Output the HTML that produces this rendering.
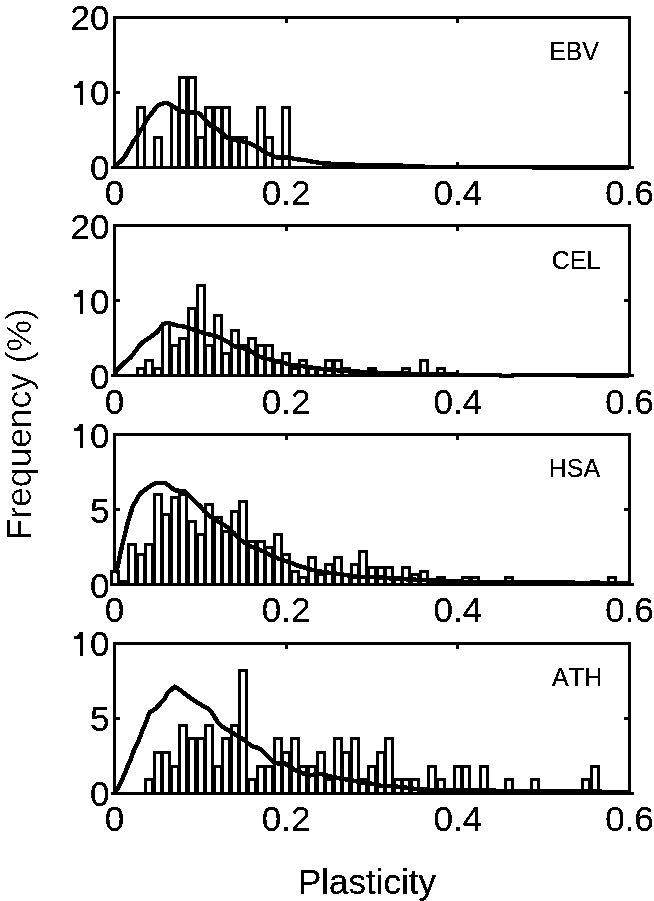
<!DOCTYPE html>
<html><head><meta charset="utf-8"><style>
html,body{margin:0;padding:0;background:#fff;}
svg{display:block;font-family:"Liberation Sans", sans-serif;font-kerning:none;will-change:transform;}
text{fill:#000;}
</style></head><body>
<svg width="654" height="901" viewBox="0 0 654 901">
<rect width="654" height="901" fill="#fff"/>
<defs><filter id="crisp" x="0" y="0" width="100%" height="100%" filterUnits="userSpaceOnUse"><feComponentTransfer><feFuncA type="discrete" tableValues="0 1 1"/></feComponentTransfer></filter><filter id="crisp2" x="0" y="0" width="100%" height="100%" filterUnits="userSpaceOnUse"><feComponentTransfer><feFuncA type="discrete" tableValues="0 0 1"/></feComponentTransfer></filter></defs>
<g shape-rendering="crispEdges"><rect x="113" y="16" width="518" height="3" fill="#000"/><rect x="113" y="166" width="518" height="3" fill="#000"/><rect x="113" y="16" width="3" height="153" fill="#000"/><rect x="628" y="16" width="3" height="153" fill="#000"/><rect x="285" y="19" width="3" height="4" fill="#000"/><rect x="285" y="162" width="3" height="4" fill="#000"/><rect x="456" y="19" width="3" height="4" fill="#000"/><rect x="456" y="162" width="3" height="4" fill="#000"/><rect x="116" y="91" width="4" height="3" fill="#000"/><rect x="624" y="91" width="4" height="3" fill="#000"/><rect x="111" y="166" width="3" height="3" fill="#000"/><rect x="631" y="166" width="3" height="3" fill="#000"/><rect x="139" y="109" width="4" height="57" fill="#fff"/><rect x="156" y="139" width="4" height="27" fill="#fff"/><rect x="173" y="109" width="4" height="57" fill="#fff"/><rect x="181" y="79" width="4" height="87" fill="#fff"/><rect x="190" y="79" width="4" height="87" fill="#fff"/><rect x="199" y="139" width="4" height="27" fill="#fff"/><rect x="207" y="109" width="4" height="57" fill="#fff"/><rect x="216" y="109" width="4" height="57" fill="#fff"/><rect x="224" y="109" width="4" height="57" fill="#fff"/><rect x="233" y="139" width="4" height="27" fill="#fff"/><rect x="241" y="139" width="4" height="27" fill="#fff"/><rect x="259" y="109" width="4" height="57" fill="#fff"/><rect x="267" y="139" width="4" height="27" fill="#fff"/><rect x="284" y="109" width="4" height="57" fill="#fff"/><rect x="136" y="106" width="3" height="63" fill="#000"/><rect x="143" y="106" width="3" height="63" fill="#000"/><rect x="136" y="106" width="10" height="3" fill="#000"/><rect x="153" y="136" width="3" height="33" fill="#000"/><rect x="160" y="136" width="3" height="33" fill="#000"/><rect x="153" y="136" width="10" height="3" fill="#000"/><rect x="170" y="106" width="3" height="63" fill="#000"/><rect x="177" y="106" width="3" height="63" fill="#000"/><rect x="170" y="106" width="10" height="3" fill="#000"/><rect x="178" y="76" width="3" height="93" fill="#000"/><rect x="185" y="76" width="3" height="93" fill="#000"/><rect x="178" y="76" width="10" height="3" fill="#000"/><rect x="187" y="76" width="3" height="93" fill="#000"/><rect x="194" y="76" width="3" height="93" fill="#000"/><rect x="187" y="76" width="10" height="3" fill="#000"/><rect x="196" y="136" width="3" height="33" fill="#000"/><rect x="203" y="136" width="3" height="33" fill="#000"/><rect x="196" y="136" width="10" height="3" fill="#000"/><rect x="204" y="106" width="3" height="63" fill="#000"/><rect x="211" y="106" width="3" height="63" fill="#000"/><rect x="204" y="106" width="10" height="3" fill="#000"/><rect x="213" y="106" width="3" height="63" fill="#000"/><rect x="220" y="106" width="3" height="63" fill="#000"/><rect x="213" y="106" width="10" height="3" fill="#000"/><rect x="221" y="106" width="3" height="63" fill="#000"/><rect x="228" y="106" width="3" height="63" fill="#000"/><rect x="221" y="106" width="10" height="3" fill="#000"/><rect x="230" y="136" width="3" height="33" fill="#000"/><rect x="237" y="136" width="3" height="33" fill="#000"/><rect x="230" y="136" width="10" height="3" fill="#000"/><rect x="238" y="136" width="3" height="33" fill="#000"/><rect x="245" y="136" width="3" height="33" fill="#000"/><rect x="238" y="136" width="10" height="3" fill="#000"/><rect x="256" y="106" width="3" height="63" fill="#000"/><rect x="263" y="106" width="3" height="63" fill="#000"/><rect x="256" y="106" width="10" height="3" fill="#000"/><rect x="264" y="136" width="3" height="33" fill="#000"/><rect x="271" y="136" width="3" height="33" fill="#000"/><rect x="264" y="136" width="10" height="3" fill="#000"/><rect x="281" y="106" width="3" height="63" fill="#000"/><rect x="288" y="106" width="3" height="63" fill="#000"/><rect x="281" y="106" width="10" height="3" fill="#000"/></g>
<polyline points="114.5,167.5 116.2,164.5 120.5,161.5 124.7,157.1 127.8,151.0 130.8,146.1 133.9,140.8 137.0,136.6 140.0,131.1 143.1,126.8 145.8,121.5 148.6,117.0 151.6,113.5 154.7,109.3 157.7,105.6 160.8,104.1 163.8,103.2 166.9,103.0 170.0,104.6 173.0,106.3 176.1,108.4 179.1,110.0 182.2,111.5 185.5,112.0 189.6,112.5 195.7,112.7 199.4,113.5 201.8,116.0 204.9,119.5 208.0,122.8 211.0,125.9 214.1,127.5 217.1,129.0 220.2,131.4 223.5,134.0 226.6,137.5 232.7,140.0 238.8,140.5 245.0,142.0 248.0,143.0 251.1,143.9 254.1,145.5 257.2,147.2 260.5,148.8 264.6,152.2 270.7,155.0 276.8,157.5 283.0,157.5 289.1,157.5 295.2,159.0 298.5,159.5 306.2,160.3 311.5,161.5 324.4,163.6 346.9,164.1 359.7,165.2 380.5,165.2 385.5,164.8 390.5,165.2 408.5,166.0 430.5,167.0 629.5,167.5" fill="none" stroke="#000" stroke-width="4.5" stroke-linejoin="round" shape-rendering="crispEdges"/>
<g shape-rendering="crispEdges"><rect x="113" y="224" width="518" height="3" fill="#000"/><rect x="113" y="374" width="518" height="3" fill="#000"/><rect x="113" y="224" width="3" height="153" fill="#000"/><rect x="628" y="224" width="3" height="153" fill="#000"/><rect x="285" y="227" width="3" height="4" fill="#000"/><rect x="285" y="370" width="3" height="4" fill="#000"/><rect x="456" y="227" width="3" height="4" fill="#000"/><rect x="456" y="370" width="3" height="4" fill="#000"/><rect x="116" y="299" width="4" height="3" fill="#000"/><rect x="624" y="299" width="4" height="3" fill="#000"/><rect x="111" y="374" width="3" height="3" fill="#000"/><rect x="631" y="374" width="3" height="3" fill="#000"/><rect x="139" y="370" width="4" height="4" fill="#fff"/><rect x="147" y="362" width="4" height="12" fill="#fff"/><rect x="156" y="370" width="4" height="4" fill="#fff"/><rect x="164" y="325" width="4" height="49" fill="#fff"/><rect x="173" y="347" width="4" height="27" fill="#fff"/><rect x="181" y="340" width="4" height="34" fill="#fff"/><rect x="190" y="310" width="4" height="64" fill="#fff"/><rect x="199" y="287" width="4" height="87" fill="#fff"/><rect x="207" y="347" width="4" height="27" fill="#fff"/><rect x="216" y="317" width="4" height="57" fill="#fff"/><rect x="224" y="355" width="4" height="19" fill="#fff"/><rect x="233" y="332" width="4" height="42" fill="#fff"/><rect x="241" y="347" width="4" height="27" fill="#fff"/><rect x="250" y="340" width="4" height="34" fill="#fff"/><rect x="259" y="347" width="4" height="27" fill="#fff"/><rect x="267" y="347" width="4" height="27" fill="#fff"/><rect x="276" y="362" width="4" height="12" fill="#fff"/><rect x="284" y="355" width="4" height="19" fill="#fff"/><rect x="293" y="370" width="4" height="4" fill="#fff"/><rect x="301" y="362" width="4" height="12" fill="#fff"/><rect x="310" y="370" width="4" height="4" fill="#fff"/><rect x="319" y="370" width="4" height="4" fill="#fff"/><rect x="327" y="362" width="4" height="12" fill="#fff"/><rect x="336" y="362" width="4" height="12" fill="#fff"/><rect x="344" y="370" width="4" height="4" fill="#fff"/><rect x="370" y="370" width="4" height="4" fill="#fff"/><rect x="404" y="370" width="4" height="4" fill="#fff"/><rect x="422" y="362" width="4" height="12" fill="#fff"/><rect x="439" y="370" width="4" height="4" fill="#fff"/><rect x="136" y="367" width="3" height="10" fill="#000"/><rect x="143" y="367" width="3" height="10" fill="#000"/><rect x="136" y="367" width="10" height="3" fill="#000"/><rect x="144" y="359" width="3" height="18" fill="#000"/><rect x="151" y="359" width="3" height="18" fill="#000"/><rect x="144" y="359" width="10" height="3" fill="#000"/><rect x="153" y="367" width="3" height="10" fill="#000"/><rect x="160" y="367" width="3" height="10" fill="#000"/><rect x="153" y="367" width="10" height="3" fill="#000"/><rect x="161" y="322" width="3" height="55" fill="#000"/><rect x="168" y="322" width="3" height="55" fill="#000"/><rect x="161" y="322" width="10" height="3" fill="#000"/><rect x="170" y="344" width="3" height="33" fill="#000"/><rect x="177" y="344" width="3" height="33" fill="#000"/><rect x="170" y="344" width="10" height="3" fill="#000"/><rect x="178" y="337" width="3" height="40" fill="#000"/><rect x="185" y="337" width="3" height="40" fill="#000"/><rect x="178" y="337" width="10" height="3" fill="#000"/><rect x="187" y="307" width="3" height="70" fill="#000"/><rect x="194" y="307" width="3" height="70" fill="#000"/><rect x="187" y="307" width="10" height="3" fill="#000"/><rect x="196" y="284" width="3" height="93" fill="#000"/><rect x="203" y="284" width="3" height="93" fill="#000"/><rect x="196" y="284" width="10" height="3" fill="#000"/><rect x="204" y="344" width="3" height="33" fill="#000"/><rect x="211" y="344" width="3" height="33" fill="#000"/><rect x="204" y="344" width="10" height="3" fill="#000"/><rect x="213" y="314" width="3" height="63" fill="#000"/><rect x="220" y="314" width="3" height="63" fill="#000"/><rect x="213" y="314" width="10" height="3" fill="#000"/><rect x="221" y="352" width="3" height="25" fill="#000"/><rect x="228" y="352" width="3" height="25" fill="#000"/><rect x="221" y="352" width="10" height="3" fill="#000"/><rect x="230" y="329" width="3" height="48" fill="#000"/><rect x="237" y="329" width="3" height="48" fill="#000"/><rect x="230" y="329" width="10" height="3" fill="#000"/><rect x="238" y="344" width="3" height="33" fill="#000"/><rect x="245" y="344" width="3" height="33" fill="#000"/><rect x="238" y="344" width="10" height="3" fill="#000"/><rect x="247" y="337" width="3" height="40" fill="#000"/><rect x="254" y="337" width="3" height="40" fill="#000"/><rect x="247" y="337" width="10" height="3" fill="#000"/><rect x="256" y="344" width="3" height="33" fill="#000"/><rect x="263" y="344" width="3" height="33" fill="#000"/><rect x="256" y="344" width="10" height="3" fill="#000"/><rect x="264" y="344" width="3" height="33" fill="#000"/><rect x="271" y="344" width="3" height="33" fill="#000"/><rect x="264" y="344" width="10" height="3" fill="#000"/><rect x="273" y="359" width="3" height="18" fill="#000"/><rect x="280" y="359" width="3" height="18" fill="#000"/><rect x="273" y="359" width="10" height="3" fill="#000"/><rect x="281" y="352" width="3" height="25" fill="#000"/><rect x="288" y="352" width="3" height="25" fill="#000"/><rect x="281" y="352" width="10" height="3" fill="#000"/><rect x="290" y="367" width="3" height="10" fill="#000"/><rect x="297" y="367" width="3" height="10" fill="#000"/><rect x="290" y="367" width="10" height="3" fill="#000"/><rect x="298" y="359" width="3" height="18" fill="#000"/><rect x="305" y="359" width="3" height="18" fill="#000"/><rect x="298" y="359" width="10" height="3" fill="#000"/><rect x="307" y="367" width="3" height="10" fill="#000"/><rect x="314" y="367" width="3" height="10" fill="#000"/><rect x="307" y="367" width="10" height="3" fill="#000"/><rect x="316" y="367" width="3" height="10" fill="#000"/><rect x="323" y="367" width="3" height="10" fill="#000"/><rect x="316" y="367" width="10" height="3" fill="#000"/><rect x="324" y="359" width="3" height="18" fill="#000"/><rect x="331" y="359" width="3" height="18" fill="#000"/><rect x="324" y="359" width="10" height="3" fill="#000"/><rect x="333" y="359" width="3" height="18" fill="#000"/><rect x="340" y="359" width="3" height="18" fill="#000"/><rect x="333" y="359" width="10" height="3" fill="#000"/><rect x="341" y="367" width="3" height="10" fill="#000"/><rect x="348" y="367" width="3" height="10" fill="#000"/><rect x="341" y="367" width="10" height="3" fill="#000"/><rect x="367" y="367" width="3" height="10" fill="#000"/><rect x="374" y="367" width="3" height="10" fill="#000"/><rect x="367" y="367" width="10" height="3" fill="#000"/><rect x="401" y="367" width="3" height="10" fill="#000"/><rect x="408" y="367" width="3" height="10" fill="#000"/><rect x="401" y="367" width="10" height="3" fill="#000"/><rect x="419" y="359" width="3" height="18" fill="#000"/><rect x="426" y="359" width="3" height="18" fill="#000"/><rect x="419" y="359" width="10" height="3" fill="#000"/><rect x="436" y="367" width="3" height="10" fill="#000"/><rect x="443" y="367" width="3" height="10" fill="#000"/><rect x="436" y="367" width="10" height="3" fill="#000"/></g>
<polyline points="114.5,375.5 116.2,370.8 118.6,368.5 121.7,365.4 124.7,362.3 127.8,359.9 130.8,357.1 133.9,353.2 137.0,348.9 140.0,344.9 143.1,341.8 146.1,340.0 149.2,337.8 151.0,336.5 153.6,334.8 156.6,332.4 159.7,329.0 162.7,325.0 165.8,322.9 168.8,323.2 171.9,324.1 175.0,324.9 178.0,325.8 181.1,326.1 184.1,326.7 187.2,327.5 191.6,328.9 197.7,331.0 203.8,333.2 210.0,334.7 216.1,336.3 222.2,339.3 228.6,342.5 234.7,346.3 240.8,347.8 247.0,349.0 253.1,352.7 259.0,356.7 264.6,358.3 270.7,359.5 276.8,361.4 283.0,362.6 289.1,364.5 295.2,365.3 303.1,366.3 310.8,367.4 318.4,368.5 326.1,369.3 333.7,369.7 341.4,371.1 349.7,371.3 365.5,372.0 381.8,373.0 399.2,373.5 440.5,374.5 476.5,375.0 498.5,375.0 502.5,376.0 510.5,376.0 514.5,375.0 629.5,375.5" fill="none" stroke="#000" stroke-width="4.5" stroke-linejoin="round" shape-rendering="crispEdges"/>
<g shape-rendering="crispEdges"><rect x="113" y="433" width="518" height="3" fill="#000"/><rect x="113" y="583" width="518" height="3" fill="#000"/><rect x="113" y="433" width="3" height="153" fill="#000"/><rect x="628" y="433" width="3" height="153" fill="#000"/><rect x="285" y="436" width="3" height="4" fill="#000"/><rect x="285" y="579" width="3" height="4" fill="#000"/><rect x="456" y="436" width="3" height="4" fill="#000"/><rect x="456" y="579" width="3" height="4" fill="#000"/><rect x="116" y="508" width="4" height="3" fill="#000"/><rect x="624" y="508" width="4" height="3" fill="#000"/><rect x="110" y="583" width="4" height="3" fill="#000"/><rect x="631" y="583" width="3" height="3" fill="#000"/><rect x="113" y="573" width="4" height="10" fill="#fff"/><rect x="121" y="583" width="4" height="0" fill="#fff"/><rect x="130" y="546" width="4" height="37" fill="#fff"/><rect x="139" y="556" width="4" height="27" fill="#fff"/><rect x="147" y="546" width="4" height="37" fill="#fff"/><rect x="156" y="496" width="4" height="87" fill="#fff"/><rect x="164" y="516" width="4" height="67" fill="#fff"/><rect x="173" y="499" width="4" height="84" fill="#fff"/><rect x="181" y="496" width="4" height="87" fill="#fff"/><rect x="190" y="523" width="4" height="60" fill="#fff"/><rect x="199" y="536" width="4" height="47" fill="#fff"/><rect x="207" y="506" width="4" height="77" fill="#fff"/><rect x="216" y="519" width="4" height="64" fill="#fff"/><rect x="224" y="533" width="4" height="50" fill="#fff"/><rect x="233" y="513" width="4" height="70" fill="#fff"/><rect x="241" y="503" width="4" height="80" fill="#fff"/><rect x="250" y="543" width="4" height="40" fill="#fff"/><rect x="259" y="543" width="4" height="40" fill="#fff"/><rect x="267" y="549" width="4" height="34" fill="#fff"/><rect x="276" y="536" width="4" height="47" fill="#fff"/><rect x="284" y="556" width="4" height="27" fill="#fff"/><rect x="293" y="573" width="4" height="10" fill="#fff"/><rect x="301" y="579" width="4" height="4" fill="#fff"/><rect x="310" y="559" width="4" height="24" fill="#fff"/><rect x="319" y="576" width="4" height="7" fill="#fff"/><rect x="327" y="566" width="4" height="17" fill="#fff"/><rect x="336" y="559" width="4" height="24" fill="#fff"/><rect x="344" y="576" width="4" height="7" fill="#fff"/><rect x="353" y="566" width="4" height="17" fill="#fff"/><rect x="361" y="553" width="4" height="30" fill="#fff"/><rect x="370" y="569" width="4" height="14" fill="#fff"/><rect x="379" y="569" width="4" height="14" fill="#fff"/><rect x="387" y="569" width="4" height="14" fill="#fff"/><rect x="396" y="579" width="4" height="4" fill="#fff"/><rect x="404" y="569" width="4" height="14" fill="#fff"/><rect x="413" y="576" width="4" height="7" fill="#fff"/><rect x="422" y="573" width="4" height="10" fill="#fff"/><rect x="430" y="583" width="4" height="0" fill="#fff"/><rect x="439" y="579" width="4" height="4" fill="#fff"/><rect x="447" y="583" width="4" height="0" fill="#fff"/><rect x="464" y="579" width="4" height="4" fill="#fff"/><rect x="473" y="579" width="4" height="4" fill="#fff"/><rect x="482" y="583" width="4" height="0" fill="#fff"/><rect x="499" y="583" width="4" height="0" fill="#fff"/><rect x="507" y="579" width="4" height="4" fill="#fff"/><rect x="524" y="583" width="4" height="0" fill="#fff"/><rect x="533" y="583" width="4" height="0" fill="#fff"/><rect x="542" y="583" width="4" height="0" fill="#fff"/><rect x="593" y="583" width="4" height="0" fill="#fff"/><rect x="610" y="579" width="4" height="4" fill="#fff"/><rect x="110" y="570" width="3" height="16" fill="#000"/><rect x="117" y="570" width="3" height="16" fill="#000"/><rect x="110" y="570" width="10" height="3" fill="#000"/><rect x="118" y="580" width="3" height="6" fill="#000"/><rect x="125" y="580" width="3" height="6" fill="#000"/><rect x="118" y="580" width="10" height="3" fill="#000"/><rect x="127" y="543" width="3" height="43" fill="#000"/><rect x="134" y="543" width="3" height="43" fill="#000"/><rect x="127" y="543" width="10" height="3" fill="#000"/><rect x="136" y="553" width="3" height="33" fill="#000"/><rect x="143" y="553" width="3" height="33" fill="#000"/><rect x="136" y="553" width="10" height="3" fill="#000"/><rect x="144" y="543" width="3" height="43" fill="#000"/><rect x="151" y="543" width="3" height="43" fill="#000"/><rect x="144" y="543" width="10" height="3" fill="#000"/><rect x="153" y="493" width="3" height="93" fill="#000"/><rect x="160" y="493" width="3" height="93" fill="#000"/><rect x="153" y="493" width="10" height="3" fill="#000"/><rect x="161" y="513" width="3" height="73" fill="#000"/><rect x="168" y="513" width="3" height="73" fill="#000"/><rect x="161" y="513" width="10" height="3" fill="#000"/><rect x="170" y="496" width="3" height="90" fill="#000"/><rect x="177" y="496" width="3" height="90" fill="#000"/><rect x="170" y="496" width="10" height="3" fill="#000"/><rect x="178" y="493" width="3" height="93" fill="#000"/><rect x="185" y="493" width="3" height="93" fill="#000"/><rect x="178" y="493" width="10" height="3" fill="#000"/><rect x="187" y="520" width="3" height="66" fill="#000"/><rect x="194" y="520" width="3" height="66" fill="#000"/><rect x="187" y="520" width="10" height="3" fill="#000"/><rect x="196" y="533" width="3" height="53" fill="#000"/><rect x="203" y="533" width="3" height="53" fill="#000"/><rect x="196" y="533" width="10" height="3" fill="#000"/><rect x="204" y="503" width="3" height="83" fill="#000"/><rect x="211" y="503" width="3" height="83" fill="#000"/><rect x="204" y="503" width="10" height="3" fill="#000"/><rect x="213" y="516" width="3" height="70" fill="#000"/><rect x="220" y="516" width="3" height="70" fill="#000"/><rect x="213" y="516" width="10" height="3" fill="#000"/><rect x="221" y="530" width="3" height="56" fill="#000"/><rect x="228" y="530" width="3" height="56" fill="#000"/><rect x="221" y="530" width="10" height="3" fill="#000"/><rect x="230" y="510" width="3" height="76" fill="#000"/><rect x="237" y="510" width="3" height="76" fill="#000"/><rect x="230" y="510" width="10" height="3" fill="#000"/><rect x="238" y="500" width="3" height="86" fill="#000"/><rect x="245" y="500" width="3" height="86" fill="#000"/><rect x="238" y="500" width="10" height="3" fill="#000"/><rect x="247" y="540" width="3" height="46" fill="#000"/><rect x="254" y="540" width="3" height="46" fill="#000"/><rect x="247" y="540" width="10" height="3" fill="#000"/><rect x="256" y="540" width="3" height="46" fill="#000"/><rect x="263" y="540" width="3" height="46" fill="#000"/><rect x="256" y="540" width="10" height="3" fill="#000"/><rect x="264" y="546" width="3" height="40" fill="#000"/><rect x="271" y="546" width="3" height="40" fill="#000"/><rect x="264" y="546" width="10" height="3" fill="#000"/><rect x="273" y="533" width="3" height="53" fill="#000"/><rect x="280" y="533" width="3" height="53" fill="#000"/><rect x="273" y="533" width="10" height="3" fill="#000"/><rect x="281" y="553" width="3" height="33" fill="#000"/><rect x="288" y="553" width="3" height="33" fill="#000"/><rect x="281" y="553" width="10" height="3" fill="#000"/><rect x="290" y="570" width="3" height="16" fill="#000"/><rect x="297" y="570" width="3" height="16" fill="#000"/><rect x="290" y="570" width="10" height="3" fill="#000"/><rect x="298" y="576" width="3" height="10" fill="#000"/><rect x="305" y="576" width="3" height="10" fill="#000"/><rect x="298" y="576" width="10" height="3" fill="#000"/><rect x="307" y="556" width="3" height="30" fill="#000"/><rect x="314" y="556" width="3" height="30" fill="#000"/><rect x="307" y="556" width="10" height="3" fill="#000"/><rect x="316" y="573" width="3" height="13" fill="#000"/><rect x="323" y="573" width="3" height="13" fill="#000"/><rect x="316" y="573" width="10" height="3" fill="#000"/><rect x="324" y="563" width="3" height="23" fill="#000"/><rect x="331" y="563" width="3" height="23" fill="#000"/><rect x="324" y="563" width="10" height="3" fill="#000"/><rect x="333" y="556" width="3" height="30" fill="#000"/><rect x="340" y="556" width="3" height="30" fill="#000"/><rect x="333" y="556" width="10" height="3" fill="#000"/><rect x="341" y="573" width="3" height="13" fill="#000"/><rect x="348" y="573" width="3" height="13" fill="#000"/><rect x="341" y="573" width="10" height="3" fill="#000"/><rect x="350" y="563" width="3" height="23" fill="#000"/><rect x="357" y="563" width="3" height="23" fill="#000"/><rect x="350" y="563" width="10" height="3" fill="#000"/><rect x="358" y="550" width="3" height="36" fill="#000"/><rect x="365" y="550" width="3" height="36" fill="#000"/><rect x="358" y="550" width="10" height="3" fill="#000"/><rect x="367" y="566" width="3" height="20" fill="#000"/><rect x="374" y="566" width="3" height="20" fill="#000"/><rect x="367" y="566" width="10" height="3" fill="#000"/><rect x="376" y="566" width="3" height="20" fill="#000"/><rect x="383" y="566" width="3" height="20" fill="#000"/><rect x="376" y="566" width="10" height="3" fill="#000"/><rect x="384" y="566" width="3" height="20" fill="#000"/><rect x="391" y="566" width="3" height="20" fill="#000"/><rect x="384" y="566" width="10" height="3" fill="#000"/><rect x="393" y="576" width="3" height="10" fill="#000"/><rect x="400" y="576" width="3" height="10" fill="#000"/><rect x="393" y="576" width="10" height="3" fill="#000"/><rect x="401" y="566" width="3" height="20" fill="#000"/><rect x="408" y="566" width="3" height="20" fill="#000"/><rect x="401" y="566" width="10" height="3" fill="#000"/><rect x="410" y="573" width="3" height="13" fill="#000"/><rect x="417" y="573" width="3" height="13" fill="#000"/><rect x="410" y="573" width="10" height="3" fill="#000"/><rect x="419" y="570" width="3" height="16" fill="#000"/><rect x="426" y="570" width="3" height="16" fill="#000"/><rect x="419" y="570" width="10" height="3" fill="#000"/><rect x="427" y="580" width="3" height="6" fill="#000"/><rect x="434" y="580" width="3" height="6" fill="#000"/><rect x="427" y="580" width="10" height="3" fill="#000"/><rect x="436" y="576" width="3" height="10" fill="#000"/><rect x="443" y="576" width="3" height="10" fill="#000"/><rect x="436" y="576" width="10" height="3" fill="#000"/><rect x="444" y="580" width="3" height="6" fill="#000"/><rect x="451" y="580" width="3" height="6" fill="#000"/><rect x="444" y="580" width="10" height="3" fill="#000"/><rect x="461" y="576" width="3" height="10" fill="#000"/><rect x="468" y="576" width="3" height="10" fill="#000"/><rect x="461" y="576" width="10" height="3" fill="#000"/><rect x="470" y="576" width="3" height="10" fill="#000"/><rect x="477" y="576" width="3" height="10" fill="#000"/><rect x="470" y="576" width="10" height="3" fill="#000"/><rect x="479" y="580" width="3" height="6" fill="#000"/><rect x="486" y="580" width="3" height="6" fill="#000"/><rect x="479" y="580" width="10" height="3" fill="#000"/><rect x="496" y="580" width="3" height="6" fill="#000"/><rect x="503" y="580" width="3" height="6" fill="#000"/><rect x="496" y="580" width="10" height="3" fill="#000"/><rect x="504" y="576" width="3" height="10" fill="#000"/><rect x="511" y="576" width="3" height="10" fill="#000"/><rect x="504" y="576" width="10" height="3" fill="#000"/><rect x="521" y="580" width="3" height="6" fill="#000"/><rect x="528" y="580" width="3" height="6" fill="#000"/><rect x="521" y="580" width="10" height="3" fill="#000"/><rect x="530" y="580" width="3" height="6" fill="#000"/><rect x="537" y="580" width="3" height="6" fill="#000"/><rect x="530" y="580" width="10" height="3" fill="#000"/><rect x="539" y="580" width="3" height="6" fill="#000"/><rect x="546" y="580" width="3" height="6" fill="#000"/><rect x="539" y="580" width="10" height="3" fill="#000"/><rect x="590" y="580" width="3" height="6" fill="#000"/><rect x="597" y="580" width="3" height="6" fill="#000"/><rect x="590" y="580" width="10" height="3" fill="#000"/><rect x="607" y="576" width="3" height="10" fill="#000"/><rect x="614" y="576" width="3" height="10" fill="#000"/><rect x="607" y="576" width="10" height="3" fill="#000"/></g>
<polyline points="114.5,572.5 116.8,569.3 118.3,563.2 119.5,557.1 120.9,551.0 122.3,544.9 123.8,538.8 125.2,533.3 126.2,528.8 127.3,524.4 128.6,519.9 129.9,515.5 131.3,511.1 132.7,506.6 135.2,502.2 137.6,497.7 140.8,493.0 143.8,490.8 146.9,488.4 150.0,486.3 153.0,484.6 156.1,483.2 159.1,482.8 162.2,482.8 164.5,483.0 166.6,484.0 169.7,486.3 172.7,488.7 175.8,490.4 178.8,490.8 181.9,490.8 185.0,491.2 188.0,494.2 191.1,497.3 194.1,500.3 197.2,503.5 200.5,506.5 203.6,510.5 209.7,516.0 215.8,520.2 222.0,523.5 228.1,527.8 233.9,533.0 239.6,539.5 245.7,543.5 251.8,546.8 258.0,549.3 264.1,551.5 268.5,554.3 274.6,557.1 280.7,559.5 286.8,561.5 293.0,563.3 299.1,566.3 304.0,567.3 309.6,569.2 315.7,570.5 321.8,571.7 328.0,572.6 334.1,573.3 340.2,574.2 346.5,575.2 355.5,576.7 364.5,576.9 375.5,577.0 385.5,578.0 400.5,579.0 420.5,580.0 440.5,581.0 470.5,582.0 520.5,582.5 629.5,583.0" fill="none" stroke="#000" stroke-width="4.5" stroke-linejoin="round" shape-rendering="crispEdges"/>
<g shape-rendering="crispEdges"><rect x="113" y="642" width="518" height="3" fill="#000"/><rect x="113" y="792" width="518" height="3" fill="#000"/><rect x="113" y="642" width="3" height="153" fill="#000"/><rect x="628" y="642" width="3" height="153" fill="#000"/><rect x="285" y="645" width="3" height="4" fill="#000"/><rect x="285" y="788" width="3" height="4" fill="#000"/><rect x="456" y="645" width="3" height="4" fill="#000"/><rect x="456" y="788" width="3" height="4" fill="#000"/><rect x="116" y="717" width="4" height="3" fill="#000"/><rect x="624" y="717" width="4" height="3" fill="#000"/><rect x="111" y="792" width="3" height="3" fill="#000"/><rect x="631" y="792" width="3" height="3" fill="#000"/><rect x="147" y="781" width="4" height="11" fill="#fff"/><rect x="156" y="754" width="4" height="38" fill="#fff"/><rect x="164" y="754" width="4" height="38" fill="#fff"/><rect x="173" y="768" width="4" height="24" fill="#fff"/><rect x="181" y="727" width="4" height="65" fill="#fff"/><rect x="190" y="740" width="4" height="52" fill="#fff"/><rect x="199" y="740" width="4" height="52" fill="#fff"/><rect x="207" y="727" width="4" height="65" fill="#fff"/><rect x="216" y="768" width="4" height="24" fill="#fff"/><rect x="224" y="740" width="4" height="52" fill="#fff"/><rect x="233" y="727" width="4" height="65" fill="#fff"/><rect x="241" y="672" width="4" height="120" fill="#fff"/><rect x="250" y="781" width="4" height="11" fill="#fff"/><rect x="259" y="768" width="4" height="24" fill="#fff"/><rect x="267" y="768" width="4" height="24" fill="#fff"/><rect x="276" y="740" width="4" height="52" fill="#fff"/><rect x="284" y="754" width="4" height="38" fill="#fff"/><rect x="293" y="740" width="4" height="52" fill="#fff"/><rect x="301" y="768" width="4" height="24" fill="#fff"/><rect x="310" y="768" width="4" height="24" fill="#fff"/><rect x="319" y="754" width="4" height="38" fill="#fff"/><rect x="327" y="781" width="4" height="11" fill="#fff"/><rect x="336" y="740" width="4" height="52" fill="#fff"/><rect x="344" y="754" width="4" height="38" fill="#fff"/><rect x="353" y="740" width="4" height="52" fill="#fff"/><rect x="361" y="781" width="4" height="11" fill="#fff"/><rect x="370" y="768" width="4" height="24" fill="#fff"/><rect x="379" y="754" width="4" height="38" fill="#fff"/><rect x="387" y="740" width="4" height="52" fill="#fff"/><rect x="396" y="781" width="4" height="11" fill="#fff"/><rect x="404" y="781" width="4" height="11" fill="#fff"/><rect x="413" y="781" width="4" height="11" fill="#fff"/><rect x="430" y="768" width="4" height="24" fill="#fff"/><rect x="439" y="781" width="4" height="11" fill="#fff"/><rect x="456" y="768" width="4" height="24" fill="#fff"/><rect x="464" y="768" width="4" height="24" fill="#fff"/><rect x="482" y="768" width="4" height="24" fill="#fff"/><rect x="507" y="781" width="4" height="11" fill="#fff"/><rect x="533" y="781" width="4" height="11" fill="#fff"/><rect x="584" y="781" width="4" height="11" fill="#fff"/><rect x="593" y="768" width="4" height="24" fill="#fff"/><rect x="144" y="778" width="3" height="17" fill="#000"/><rect x="151" y="778" width="3" height="17" fill="#000"/><rect x="144" y="778" width="10" height="3" fill="#000"/><rect x="153" y="751" width="3" height="44" fill="#000"/><rect x="160" y="751" width="3" height="44" fill="#000"/><rect x="153" y="751" width="10" height="3" fill="#000"/><rect x="161" y="751" width="3" height="44" fill="#000"/><rect x="168" y="751" width="3" height="44" fill="#000"/><rect x="161" y="751" width="10" height="3" fill="#000"/><rect x="170" y="765" width="3" height="30" fill="#000"/><rect x="177" y="765" width="3" height="30" fill="#000"/><rect x="170" y="765" width="10" height="3" fill="#000"/><rect x="178" y="724" width="3" height="71" fill="#000"/><rect x="185" y="724" width="3" height="71" fill="#000"/><rect x="178" y="724" width="10" height="3" fill="#000"/><rect x="187" y="737" width="3" height="58" fill="#000"/><rect x="194" y="737" width="3" height="58" fill="#000"/><rect x="187" y="737" width="10" height="3" fill="#000"/><rect x="196" y="737" width="3" height="58" fill="#000"/><rect x="203" y="737" width="3" height="58" fill="#000"/><rect x="196" y="737" width="10" height="3" fill="#000"/><rect x="204" y="724" width="3" height="71" fill="#000"/><rect x="211" y="724" width="3" height="71" fill="#000"/><rect x="204" y="724" width="10" height="3" fill="#000"/><rect x="213" y="765" width="3" height="30" fill="#000"/><rect x="220" y="765" width="3" height="30" fill="#000"/><rect x="213" y="765" width="10" height="3" fill="#000"/><rect x="221" y="737" width="3" height="58" fill="#000"/><rect x="228" y="737" width="3" height="58" fill="#000"/><rect x="221" y="737" width="10" height="3" fill="#000"/><rect x="230" y="724" width="3" height="71" fill="#000"/><rect x="237" y="724" width="3" height="71" fill="#000"/><rect x="230" y="724" width="10" height="3" fill="#000"/><rect x="238" y="669" width="3" height="126" fill="#000"/><rect x="245" y="669" width="3" height="126" fill="#000"/><rect x="238" y="669" width="10" height="3" fill="#000"/><rect x="247" y="778" width="3" height="17" fill="#000"/><rect x="254" y="778" width="3" height="17" fill="#000"/><rect x="247" y="778" width="10" height="3" fill="#000"/><rect x="256" y="765" width="3" height="30" fill="#000"/><rect x="263" y="765" width="3" height="30" fill="#000"/><rect x="256" y="765" width="10" height="3" fill="#000"/><rect x="264" y="765" width="3" height="30" fill="#000"/><rect x="271" y="765" width="3" height="30" fill="#000"/><rect x="264" y="765" width="10" height="3" fill="#000"/><rect x="273" y="737" width="3" height="58" fill="#000"/><rect x="280" y="737" width="3" height="58" fill="#000"/><rect x="273" y="737" width="10" height="3" fill="#000"/><rect x="281" y="751" width="3" height="44" fill="#000"/><rect x="288" y="751" width="3" height="44" fill="#000"/><rect x="281" y="751" width="10" height="3" fill="#000"/><rect x="290" y="737" width="3" height="58" fill="#000"/><rect x="297" y="737" width="3" height="58" fill="#000"/><rect x="290" y="737" width="10" height="3" fill="#000"/><rect x="298" y="765" width="3" height="30" fill="#000"/><rect x="305" y="765" width="3" height="30" fill="#000"/><rect x="298" y="765" width="10" height="3" fill="#000"/><rect x="307" y="765" width="3" height="30" fill="#000"/><rect x="314" y="765" width="3" height="30" fill="#000"/><rect x="307" y="765" width="10" height="3" fill="#000"/><rect x="316" y="751" width="3" height="44" fill="#000"/><rect x="323" y="751" width="3" height="44" fill="#000"/><rect x="316" y="751" width="10" height="3" fill="#000"/><rect x="324" y="778" width="3" height="17" fill="#000"/><rect x="331" y="778" width="3" height="17" fill="#000"/><rect x="324" y="778" width="10" height="3" fill="#000"/><rect x="333" y="737" width="3" height="58" fill="#000"/><rect x="340" y="737" width="3" height="58" fill="#000"/><rect x="333" y="737" width="10" height="3" fill="#000"/><rect x="341" y="751" width="3" height="44" fill="#000"/><rect x="348" y="751" width="3" height="44" fill="#000"/><rect x="341" y="751" width="10" height="3" fill="#000"/><rect x="350" y="737" width="3" height="58" fill="#000"/><rect x="357" y="737" width="3" height="58" fill="#000"/><rect x="350" y="737" width="10" height="3" fill="#000"/><rect x="358" y="778" width="3" height="17" fill="#000"/><rect x="365" y="778" width="3" height="17" fill="#000"/><rect x="358" y="778" width="10" height="3" fill="#000"/><rect x="367" y="765" width="3" height="30" fill="#000"/><rect x="374" y="765" width="3" height="30" fill="#000"/><rect x="367" y="765" width="10" height="3" fill="#000"/><rect x="376" y="751" width="3" height="44" fill="#000"/><rect x="383" y="751" width="3" height="44" fill="#000"/><rect x="376" y="751" width="10" height="3" fill="#000"/><rect x="384" y="737" width="3" height="58" fill="#000"/><rect x="391" y="737" width="3" height="58" fill="#000"/><rect x="384" y="737" width="10" height="3" fill="#000"/><rect x="393" y="778" width="3" height="17" fill="#000"/><rect x="400" y="778" width="3" height="17" fill="#000"/><rect x="393" y="778" width="10" height="3" fill="#000"/><rect x="401" y="778" width="3" height="17" fill="#000"/><rect x="408" y="778" width="3" height="17" fill="#000"/><rect x="401" y="778" width="10" height="3" fill="#000"/><rect x="410" y="778" width="3" height="17" fill="#000"/><rect x="417" y="778" width="3" height="17" fill="#000"/><rect x="410" y="778" width="10" height="3" fill="#000"/><rect x="427" y="765" width="3" height="30" fill="#000"/><rect x="434" y="765" width="3" height="30" fill="#000"/><rect x="427" y="765" width="10" height="3" fill="#000"/><rect x="436" y="778" width="3" height="17" fill="#000"/><rect x="443" y="778" width="3" height="17" fill="#000"/><rect x="436" y="778" width="10" height="3" fill="#000"/><rect x="453" y="765" width="3" height="30" fill="#000"/><rect x="460" y="765" width="3" height="30" fill="#000"/><rect x="453" y="765" width="10" height="3" fill="#000"/><rect x="461" y="765" width="3" height="30" fill="#000"/><rect x="468" y="765" width="3" height="30" fill="#000"/><rect x="461" y="765" width="10" height="3" fill="#000"/><rect x="479" y="765" width="3" height="30" fill="#000"/><rect x="486" y="765" width="3" height="30" fill="#000"/><rect x="479" y="765" width="10" height="3" fill="#000"/><rect x="504" y="778" width="3" height="17" fill="#000"/><rect x="511" y="778" width="3" height="17" fill="#000"/><rect x="504" y="778" width="10" height="3" fill="#000"/><rect x="530" y="778" width="3" height="17" fill="#000"/><rect x="537" y="778" width="3" height="17" fill="#000"/><rect x="530" y="778" width="10" height="3" fill="#000"/><rect x="581" y="778" width="3" height="17" fill="#000"/><rect x="588" y="778" width="3" height="17" fill="#000"/><rect x="581" y="778" width="10" height="3" fill="#000"/><rect x="590" y="765" width="3" height="30" fill="#000"/><rect x="597" y="765" width="3" height="30" fill="#000"/><rect x="590" y="765" width="10" height="3" fill="#000"/></g>
<polyline points="115.0,792.5 117.1,789.4 120.2,783.3 123.2,777.2 125.7,771.1 128.1,765.0 130.9,758.8 133.0,752.7 135.7,746.6 138.6,740.8 141.8,732.1 145.2,724.2 147.4,718.4 149.1,713.8 150.3,711.7 152.0,711.2 155.8,708.5 159.6,704.3 163.4,700.3 165.0,698.0 167.9,692.5 171.4,689.5 174.8,686.7 177.7,688.5 180.7,690.5 183.8,692.9 186.8,695.3 189.9,697.5 193.0,699.6 196.0,701.7 199.1,703.5 202.1,705.5 205.5,707.0 208.6,709.1 211.6,712.3 214.7,717.2 217.7,722.1 220.8,725.5 223.8,727.6 226.9,729.5 230.0,731.3 233.0,733.1 236.1,735.0 239.1,736.8 242.2,738.6 245.5,740.8 248.6,743.8 251.7,746.0 254.7,747.2 257.8,747.8 260.8,749.3 263.9,752.3 267.0,755.4 270.0,758.8 273.1,761.3 276.1,763.1 279.2,763.5 284.6,763.1 290.7,767.5 296.8,770.9 303.0,773.3 309.1,775.5 314.5,774.5 321.5,774.1 329.0,776.2 338.5,778.2 346.9,779.5 355.4,781.0 364.1,783.0 372.5,783.8 381.5,785.9 389.5,786.1 400.5,787.0 418.5,789.3 440.5,790.3 470.5,790.5 520.5,791.0 629.5,792.0" fill="none" stroke="#000" stroke-width="4.5" stroke-linejoin="round" shape-rendering="crispEdges"/>
<g filter="url(#crisp)"><text x="109.5" y="180" text-anchor="end" font-size="35">0</text><path d="M80,81H83V105H80V88H74V85H77.2Z" fill="#000"/><text x="109.5" y="105" text-anchor="end" font-size="35">0</text><text x="109.5" y="30" text-anchor="end" font-size="35">20</text><text x="114.5" y="205.0" text-anchor="middle" font-size="35">0</text><text x="286.2" y="205.0" text-anchor="middle" font-size="35">0.2</text><text x="457.8" y="205.0" text-anchor="middle" font-size="35">0.4</text><text x="629.5" y="205.0" text-anchor="middle" font-size="35">0.6</text><text x="549.0" y="59.5" font-size="25">EBV</text><text x="109.5" y="389" text-anchor="end" font-size="35">0</text><path d="M80,290H83V314H80V297H74V294H77.2Z" fill="#000"/><text x="109.5" y="314" text-anchor="end" font-size="35">0</text><text x="109.5" y="239" text-anchor="end" font-size="35">20</text><text x="114.5" y="414.0" text-anchor="middle" font-size="35">0</text><text x="286.2" y="414.0" text-anchor="middle" font-size="35">0.2</text><text x="457.8" y="414.0" text-anchor="middle" font-size="35">0.4</text><text x="629.5" y="414.0" text-anchor="middle" font-size="35">0.6</text><text x="551.8" y="269.0" font-size="25">CEL</text><text x="109.5" y="598" text-anchor="end" font-size="35">0</text><text x="109.5" y="523" text-anchor="end" font-size="35">5</text><path d="M80,424H83V448H80V431H74V428H77.2Z" fill="#000"/><text x="109.5" y="448" text-anchor="end" font-size="35">0</text><text x="114.5" y="622.0" text-anchor="middle" font-size="35">0</text><text x="286.2" y="622.0" text-anchor="middle" font-size="35">0.2</text><text x="457.8" y="622.0" text-anchor="middle" font-size="35">0.4</text><text x="629.5" y="622.0" text-anchor="middle" font-size="35">0.6</text><text x="548.7" y="477.0" font-size="25">HSA</text><text x="109.5" y="806" text-anchor="end" font-size="35">0</text><text x="109.5" y="731" text-anchor="end" font-size="35">5</text><path d="M80,632H83V656H80V639H74V636H77.2Z" fill="#000"/><text x="109.5" y="656" text-anchor="end" font-size="35">0</text><text x="114.5" y="831.0" text-anchor="middle" font-size="35">0</text><text x="286.2" y="831.0" text-anchor="middle" font-size="35">0.2</text><text x="457.8" y="831.0" text-anchor="middle" font-size="35">0.4</text><text x="629.5" y="831.0" text-anchor="middle" font-size="35">0.6</text><text x="552.0" y="686.0" font-size="25">ATH</text><text x="298" y="894" font-size="35">Plasticity</text></g>
<g filter="url(#crisp2)"><text transform="translate(30.5,540.3) rotate(-90)" font-size="35.4">Frequency (%)</text></g>
</svg>
</body></html>
